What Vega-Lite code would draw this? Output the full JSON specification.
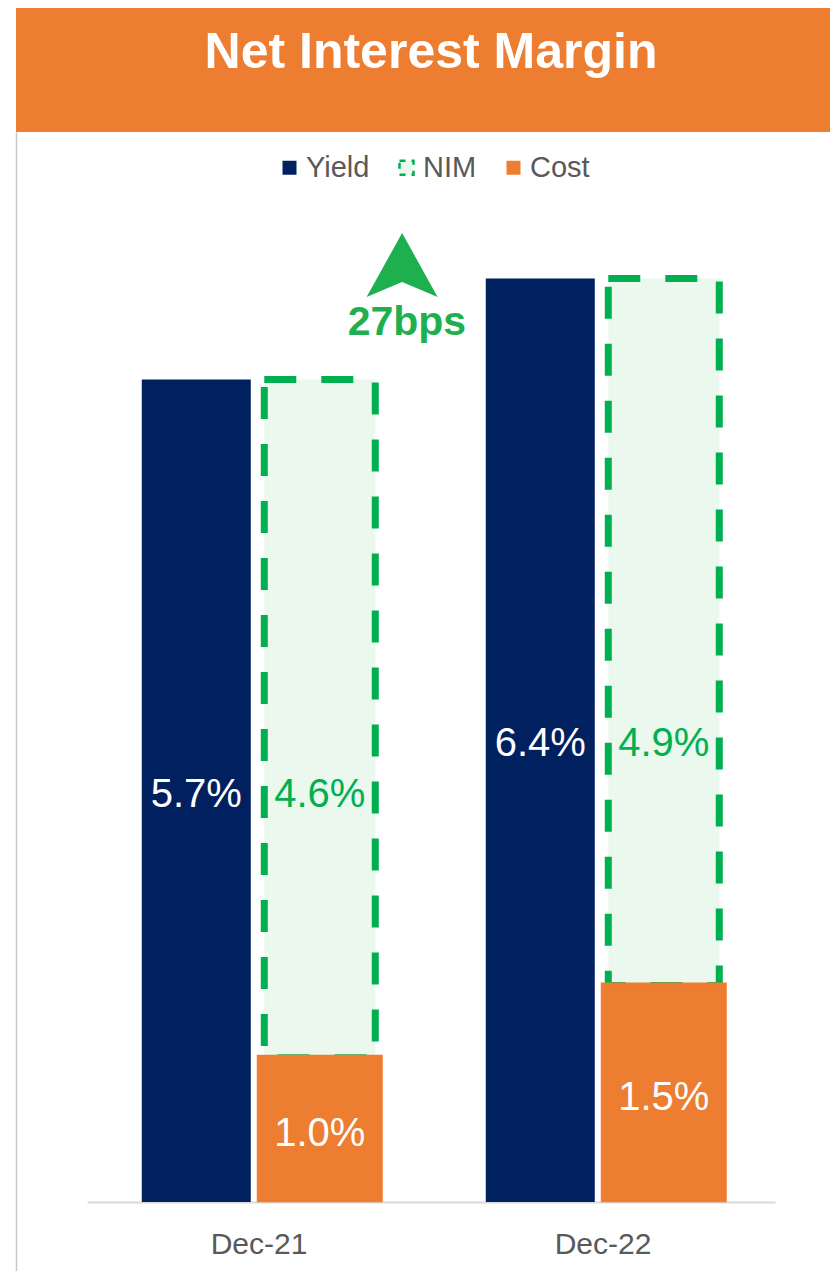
{
  "$schema": "https://vega.github.io/schema/vega-lite/v6.json",
  "padding": {"left": 16, "top": 8, "right": 0, "bottom": 0},
  "spacing": 0,
  "background": "white",
  "config": {
    "font": "Liberation Sans",
    "view": {"stroke": null}
  },
  "vconcat": [
    {
      "width": 814,
      "height": 124,
      "view": {"fill": "#ED7D31", "stroke": null},
      "data": {"values": [{"title": "Net Interest Margin"}]},
      "mark": {"type": "text", "font": "Liberation Sans", "fontWeight": "bold", "fontSize": 50, "color": "white", "baseline": "alphabetic", "align": "center", "dx": 8, "dy": -2},
      "encoding": {"text": {"field": "title"}}
    },
    {
      "width": 814,
      "height": 1139,
      "data": {"values": [
        {"period": "Dec-21", "yield": 0.057, "nim": 0.046, "cost": 0.010},
        {"period": "Dec-22", "yield": 0.064, "nim": 0.049, "cost": 0.015}
      ]},
      "layer": [
        {
          "layer": [
            {
              "mark": {"type": "bar", "width": 109},
              "encoding": {
                "x": {"field": "period", "type": "nominal", "scale": {"range": [71, 759], "paddingInner": 0, "paddingOuter": 0},
                  "axis": {"title": null, "labelAngle": 0, "ticks": false, "domainColor": "#D9D9D9", "domainWidth": 2, "labelColor": "#595959", "labelFontSize": 30, "labelFont": "Liberation Sans", "labelPadding": 27, "offset": -69}},
                "xOffset": {"datum": "Yield", "scale": {"domain": ["Yield", "NIM"], "paddingInner": 0, "paddingOuter": 0.3927, "align": 0.49}},
                "y": {"field": "yield", "type": "quantitative", "scale": {"domain": [-0.00478, 0.07415], "nice": false, "zero": false},
                  "axis": {"title": null, "labels": false, "ticks": false, "grid": false, "domainColor": "#C8C8C8", "domainWidth": 1.5}},
                "y2": {"datum": 0},
                "color": {"datum": "Yield", "type": "nominal",
                  "scale": {"domain": ["Yield", "NIM", "Cost"], "range": ["#002060", "#EAF8EE", "#ED7D31"]},
                  "legend": {
                    "title": null, "orient": "none", "direction": "horizontal", "legendX": 259, "legendY": 145,
                    "symbolType": "square", "symbolSize": 196, "symbolOpacity": 1, "symbolStrokeWidth": 0,
                    "labelFontSize": 29, "labelFont": "Liberation Sans", "labelColor": "#595959", "labelOffset": 2, "columnPadding": 22,
                    "encode": {"symbols": {"update": {
                      "stroke": {"signal": "datum.value === 'NIM' ? '#00B050' : null"},
                      "strokeWidth": {"signal": "datum.value === 'NIM' ? 2.5 : 0"},
                      "strokeDash": {"signal": "datum.value === 'NIM' ? [6, 6] : []"},
                      "fill": {"signal": "datum.value === 'NIM' ? 'white' : (datum.value === 'Yield' ? '#002060' : '#ED7D31')"}
                    }}}
                  }}
              }
            },
            {
              "mark": {"type": "bar", "width": 111, "stroke": "#00B050", "strokeWidth": 7, "strokeDash": [32, 25]},
              "encoding": {
                "x": {"field": "period", "type": "nominal"},
                "xOffset": {"datum": "NIM"},
                "y": {"field": "cost", "type": "quantitative"},
                "y2": {"field": "yield"},
                "color": {"datum": "NIM", "type": "nominal"}
              }
            },
            {
              "mark": {"type": "bar", "width": 120, "stroke": "#ED7D31", "strokeWidth": 6},
              "encoding": {
                "x": {"field": "period", "type": "nominal"},
                "xOffset": {"datum": "NIM"},
                "y": {"field": "cost", "type": "quantitative"},
                "y2": {"datum": 0.0002},
                "color": {"datum": "Cost", "type": "nominal"}
              }
            },
            {
              "data": {"values": [{"note": "27bps"}]},
              "mark": {"type": "point", "filled": true, "opacity": 1, "color": "#1EB04F", "size": 5041, "shape": "M0,-1L1,0.8L0,0.38L-1,0.8Z"},
              "encoding": {
                "x": {"datum": "Dec-21", "bandPosition": 0.916},
                "y": {"datum": 0.06469}
              }
            },
            {
              "data": {"values": [{"note": "27bps"}]},
              "mark": {"type": "text", "font": "Liberation Sans", "fontWeight": "bold", "fontSize": 41, "color": "#1EB04F", "baseline": "alphabetic", "align": "center"},
              "encoding": {
                "x": {"datum": "Dec-21", "bandPosition": 0.93},
                "y": {"datum": 0.06008},
                "text": {"field": "note"}
              }
            }
          ]
        },
        {
          "layer": [
            {
              "mark": {"type": "text", "fontSize": 40, "font": "Liberation Sans", "color": "white", "baseline": "middle", "dy": 4},
              "encoding": {
                "x": {"field": "period", "type": "nominal"},
                "xOffset": {"datum": "Yield"},
                "y": {"field": "yield", "type": "quantitative", "scale": {"domain": [-0.00956, 0.1483], "nice": false, "zero": false}, "axis": null},
                "text": {"field": "yield", "format": ".1%"}
              }
            },
            {
              "mark": {"type": "text", "fontSize": 40, "font": "Liberation Sans", "color": "#00B050", "baseline": "middle", "dy": 4},
              "encoding": {
                "x": {"field": "period", "type": "nominal"},
                "xOffset": {"datum": "NIM"},
                "y": {"field": "yield", "type": "quantitative"},
                "text": {"field": "nim", "format": ".1%"}
              }
            },
            {
              "mark": {"type": "text", "fontSize": 40, "font": "Liberation Sans", "color": "white", "baseline": "middle", "dy": 4},
              "encoding": {
                "x": {"field": "period", "type": "nominal"},
                "xOffset": {"datum": "NIM"},
                "y": {"field": "cost", "type": "quantitative"},
                "text": {"field": "cost", "format": ".1%"}
              }
            }
          ]
        }
      ],
      "resolve": {"scale": {"y": "independent"}}
    }
  ]
}
